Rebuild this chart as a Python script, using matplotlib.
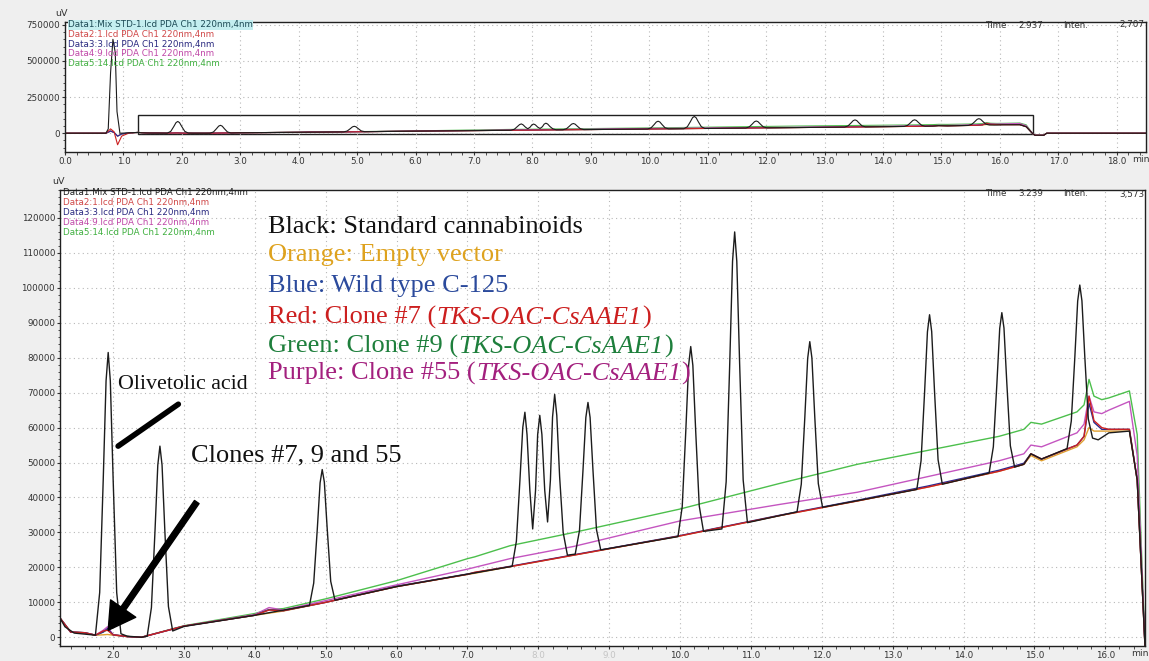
import matplotlib
matplotlib.use('Agg')
import matplotlib.pyplot as plt
from matplotlib.offsetbox import TextArea, HPacker, AnnotationBbox
from matplotlib.patches import Rectangle
from matplotlib.ticker import MultipleLocator, FuncFormatter

W, H = 1149, 661

# Data1: standard cannabinoid mix, (retention time in min, signal in uV)
std_points = [
    (0.0, 0), (0.7, 0), (0.74, 30000), (0.78, 420000), (0.82, 650000), (0.86, 560000),
    (0.89, 150000), (0.94, 0), (1.1, 3000),
    (1.25, 5500), (1.32, 3000), (1.45, 1200), (1.6, 900), (1.75, 600),
    # olivetolic acid
    (1.81, 12800), (1.86, 45100), (1.90, 73400), (1.93, 81500), (1.96, 73400),
    (2.00, 45100), (2.05, 12800), (2.11, 1000),
    (2.2, 300), (2.4, 0),
    (2.48, 300), (2.54, 8500), (2.59, 30200), (2.63, 49300), (2.66, 54700), (2.69, 49300),
    (2.73, 30200), (2.78, 8800), (2.84, 1800),
    (3.0, 3100), (4.0, 6300),
    (4.77, 9100), (4.83, 15500), (4.88, 30800), (4.92, 44200), (4.95, 48000), (4.98, 44400),
    (5.02, 31200), (5.07, 16000), (5.13, 10600),
    (6.0, 14500),
    (7.63, 20300), (7.69, 27500), (7.74, 45000), (7.78, 60000), (7.81, 64400), (7.84, 58000),
    (7.88, 42000), (7.92, 31000), (7.96, 42000), (7.99, 58000), (8.02, 63500), (8.05, 58000),
    (8.09, 42000), (8.13, 33000), (8.17, 45000), (8.20, 63000), (8.23, 69500), (8.26, 63500),
    (8.30, 46000), (8.35, 30000), (8.41, 23500),
    (8.52, 23800), (8.58, 30500), (8.63, 47900), (8.67, 62900), (8.70, 67200), (8.73, 62900),
    (8.77, 48000), (8.82, 30800), (8.88, 25000),
    (9.97, 28800), (10.03, 37400), (10.08, 58900), (10.12, 77800), (10.15, 83200), (10.18, 77800),
    (10.22, 59000), (10.27, 37600), (10.33, 30300),
    (10.59, 31000), (10.65, 44500), (10.70, 78100), (10.74, 107600), (10.77, 116000), (10.80, 107600),
    (10.84, 78300), (10.89, 45000), (10.95, 32800),
    (11.65, 35900), (11.71, 43800), (11.76, 63000), (11.80, 79800), (11.83, 84600), (11.86, 79900),
    (11.90, 63200), (11.95, 44000), (12.01, 37200),
    (13.34, 42300), (13.40, 50500), (13.45, 70200), (13.49, 87400), (13.52, 92300), (13.55, 87500),
    (13.59, 70400), (13.64, 50800), (13.70, 43800),
    (14.36, 47000), (14.42, 54500), (14.47, 72600), (14.51, 88400), (14.54, 92900), (14.57, 88500),
    (14.61, 72800), (14.66, 54800), (14.72, 48700),
    (14.85, 49500), (14.95, 52500), (15.1, 51000),
    (15.46, 54000), (15.52, 61900), (15.57, 80200), (15.61, 96200), (15.64, 100800), (15.67, 96300),
    (15.71, 80500), (15.76, 62500), (15.82, 57000),
    (15.9, 56500), (16.05, 58500), (16.34, 59000), (16.45, 45000), (16.56, -2500),
    (16.6, -14000), (16.75, -14000), (16.8, 0), (18.5, 0),
]
std_time = [p[0] for p in std_points]
std_signal = [p[1] for p in std_points]

# sample extracts, all on one time grid
sample_time = [0.0, 0.7, 0.78, 0.84, 0.9, 0.97, 1.1,
               1.25, 1.4, 1.6, 1.75, 1.86, 1.92,
               2.0, 2.2, 2.4, 3.0,
               4.0, 4.2, 4.4, 5.0,
               6.0, 7.0, 7.1, 7.6, 8.5, 10.0,
               11.4, 12.5, 13.5, 14.5, 14.85, 14.95, 15.1,
               15.6, 15.7, 15.77, 15.84, 15.95, 16.05, 16.34, 16.45, 16.56, 16.6, 16.75, 16.8, 18.5]
empty_vector = [0, 0, 15000, 5000, -20000, -5000, 2000,
                5500, 1500, 1200, 600, 700, 800,
                600, 200, 0, 3200,
                6300, 6900, 7500, 10000,
                14500, 18000, 18300, 20200, 23500, 29000,
                34800, 39000, 43000, 47500, 49500, 52000, 50500,
                54500, 56500, 60000, 59000, 59000, 59000, 59000, 45000, -2500, -14000, -14000, 0, 0]
wild_type = [0, 0, 15000, 5000, -20000, -5000, 2000,
             5500, 1500, 1300, 600, 1500, 2500,
             700, 200, 0, 3200,
             6300, 7900, 7600, 10000,
             14600, 18100, 18500, 20300, 23600, 29100,
             34900, 39200, 43300, 47800, 49800, 52500, 51000,
             55000, 57500, 67000, 61500, 59500, 59500, 59500, 45000, -2500, -14000, -14000, 0, 0]
clone_7 = [0, 0, 30000, 10000, -80000, -20000, 2000,
           5500, 1500, 1300, 600, 1800, 2000,
           700, 200, 0, 3200,
           6300, 7800, 7600, 10000,
           14500, 18000, 18600, 20200, 23500, 29000,
           34800, 39000, 43000, 47500, 49500, 52500, 51000,
           55000, 57500, 69000, 62000, 60000, 59500, 59500, 45000, -2500, -14000, -14000, 0, 0]
clone_9 = [0, 0, 15000, 5000, -20000, -5000, 2000,
           5500, 1500, 1300, 600, 1500, 2200,
           700, 200, 0, 3300,
           6800, 7900, 8200, 11000,
           16200, 22500, 23000, 26200, 30000, 36700,
           44000, 49500, 53500, 57500, 59500, 61500, 61000,
           64500, 66500, 73800, 69000, 68000, 68500, 70500, 58000, -2500, -14000, -14000, 0, 0]
clone_55 = [0, 0, 15000, 5000, -20000, -5000, 2000,
            5500, 1500, 1300, 600, 2000, 3000,
            700, 200, 0, 3200,
            6500, 8500, 7800, 10500,
            15000, 19500, 20000, 22500, 26000, 33300,
            38000, 41500, 46000, 50500, 52500, 55000, 54500,
            58500, 61000, 69000, 64500, 64000, 65000, 67500, 52000, -2500, -14000, -14000, 0, 0]

headers = ['Data1:Mix STD-1.lcd PDA Ch1 220nm,4nm',
           'Data2:1.lcd PDA Ch1 220nm,4nm',
           'Data3:3.lcd PDA Ch1 220nm,4nm',
           'Data4:9.lcd PDA Ch1 220nm,4nm',
           'Data5:14.lcd PDA Ch1 220nm,4nm']
header_colors = ['#202020', '#d04848', '#2a2a80', '#c048a8', '#40b040']

c_black = '#1c1c1c'
c_orange = '#e0a030'
c_blue = '#2a2a90'
c_red = '#cc2222'
c_green = '#4cbf4c'
c_purple = '#c455c0'

zoom_xlim = (1.25, 16.56)
zoom_ylim = (-2500, 128000)

serif = 'Liberation Serif'
plt.rcParams['font.family'] = 'DejaVu Sans'


def px(x, y):
    return x / W, 1 - y / H


def axes_rect(left, top, right, bottom):
    return [left / W, 1 - bottom / H, (right - left) / W, (bottom - top) / H]


def style_axes(ax, xmaj, ymaj, ymin_step):
    ax.set_facecolor('white')
    ax.xaxis.set_major_locator(MultipleLocator(xmaj))
    ax.xaxis.set_minor_locator(MultipleLocator(0.2))
    ax.yaxis.set_major_locator(MultipleLocator(ymaj))
    ax.yaxis.set_minor_locator(MultipleLocator(ymin_step))
    ax.xaxis.set_major_formatter(FuncFormatter(lambda v, p: f'{v:.1f}'))
    ax.yaxis.set_major_formatter(FuncFormatter(lambda v, p: f'{v:.0f}' if v >= 0 else ''))
    ax.tick_params(which='major', direction='out', length=2.5, width=0.8,
                   labelsize=6.3, colors='#333333', pad=1)
    ax.tick_params(which='minor', direction='out', length=1.8, width=0.6, colors='#333333')
    ax.grid(True, which='major', color='#b8b8b8', linestyle=(0, (1, 3)), linewidth=0.8)
    for s in ax.spines.values():
        s.set_color('#202020')
        s.set_linewidth(1.0)


def draw_traces(ax, lw):
    ax.plot(sample_time, empty_vector, color=c_orange, lw=lw)
    ax.plot(sample_time, clone_9, color=c_green, lw=lw)
    ax.plot(sample_time, clone_55, color=c_purple, lw=lw)
    ax.plot(sample_time, wild_type, color=c_blue, lw=lw)
    ax.plot(sample_time, clone_7, color=c_red, lw=lw)
    ax.plot(std_time, std_signal, color=c_black, lw=lw)


def draw_header(x0, y0, step, time_txt, inten_txt, y_info, highlight):
    for i, (txt, col) in enumerate(zip(headers, header_colors)):
        kw = {}
        if i == 0 and highlight:
            kw['bbox'] = dict(facecolor='#c4eef0', edgecolor='none', pad=0.3)
            col = '#1d4a55'
        fig.text(*px(x0, y0 + i * step), txt, fontsize=6.3, color=col,
                 ha='left', va='center', **kw)
    fig.text(*px(985, y_info), 'Time', fontsize=6.3, color='#333333', va='center')
    fig.text(*px(1018, y_info), time_txt, fontsize=6.3, color='#333333', va='center')
    fig.text(*px(1063, y_info), 'Inten.', fontsize=6.3, color='#333333', va='center')
    fig.text(*px(1144, y_info), inten_txt, fontsize=6.3, color='#333333',
             va='center', ha='right')


fig = plt.figure(figsize=(W / 100, H / 100), dpi=100)
fig.patch.set_facecolor('#efefef')

# overview panel
ax1 = fig.add_axes(axes_rect(65, 22, 1146, 152))
style_axes(ax1, 1.0, 250000, 50000)
draw_traces(ax1, 0.8)
ax1.set_xlim(0, 18.5)
ax1.set_ylim(-130000, 770000)
ax1.add_patch(Rectangle((zoom_xlim[0], zoom_ylim[0]), zoom_xlim[1] - zoom_xlim[0],
                        zoom_ylim[1] - zoom_ylim[0], fill=False, edgecolor='#202020', lw=1.0))
fig.text(*px(55, 14), 'uV', fontsize=6.8, color='#333333', va='center')
fig.text(*px(1132, 160), 'min', fontsize=6.6, color='#333333', va='center')
draw_header(68, 25, 9.6, '2.937', '2,707', 25, True)

# zoomed panel
ax2 = fig.add_axes(axes_rect(60, 190, 1145, 646))
style_axes(ax2, 1.0, 10000, 2000)
draw_traces(ax2, 1.0)
ax2.set_xlim(*zoom_xlim)
ax2.set_ylim(*zoom_ylim)
for lab in ax2.get_xticklabels():
    if lab.get_text() in ('8.0', '9.0'):
        lab.set_color('#c4c4c4')
fig.text(*px(52, 182), 'uV', fontsize=6.8, color='#333333', va='center')
fig.text(*px(1131, 653), 'min', fontsize=6.6, color='#333333', va='center')
draw_header(63, 193, 10.0, '3.239', '3,573', 194, False)

# colour key
key_x = 4.19
key_rows = [
    (117400, [('Black: Standard cannabinoids', 'normal')], '#111111'),
    (109400, [('Orange: Empty vector', 'normal')], '#dea21e'),
    (100600, [('Blue: Wild type C-125', 'normal')], '#2b4a9c'),
    (91500, [('Red: Clone #7 (', 'normal'), ('TKS-OAC-CsAAE1', 'italic'), (')', 'normal')], '#cc1f1f'),
    (83200, [('Green: Clone #9 (', 'normal'), ('TKS-OAC-CsAAE1', 'italic'), (')', 'normal')], '#1e7f3c'),
    (75500, [('Purple: Clone #55 (', 'normal'), ('TKS-OAC-CsAAE1', 'italic'), (')', 'normal')], '#a3207e'),
]
for y, parts, col in key_rows:
    areas = [TextArea(t, textprops=dict(family=serif, fontsize=19, color=col, style=st))
             for t, st in parts]
    box = HPacker(children=areas, pad=0, sep=0, align='baseline')
    ab = AnnotationBbox(box, (key_x, y), xycoords='data', box_alignment=(0, 0.5),
                        frameon=False, pad=0)
    ax2.add_artist(ab)

ax2.text(2.07, 72400, 'Olivetolic acid', family=serif, fontsize=15.8, color='#111111',
         ha='left', va='center')
ax2.plot([2.07, 2.92], [54700, 66700], color='black', lw=4, solid_capstyle='round')
ax2.text(3.10, 52100, 'Clones #7, 9 and 55', family=serif, fontsize=19, color='#111111',
         ha='left', va='center')
ax2.annotate('', xy=(1.93, 2000), xytext=(3.18, 38700),
             arrowprops=dict(facecolor='black', edgecolor='black', width=4,
                             headwidth=22, headlength=19, shrink=0))

fig.savefig('out.png', dpi=100, facecolor=fig.get_facecolor())
